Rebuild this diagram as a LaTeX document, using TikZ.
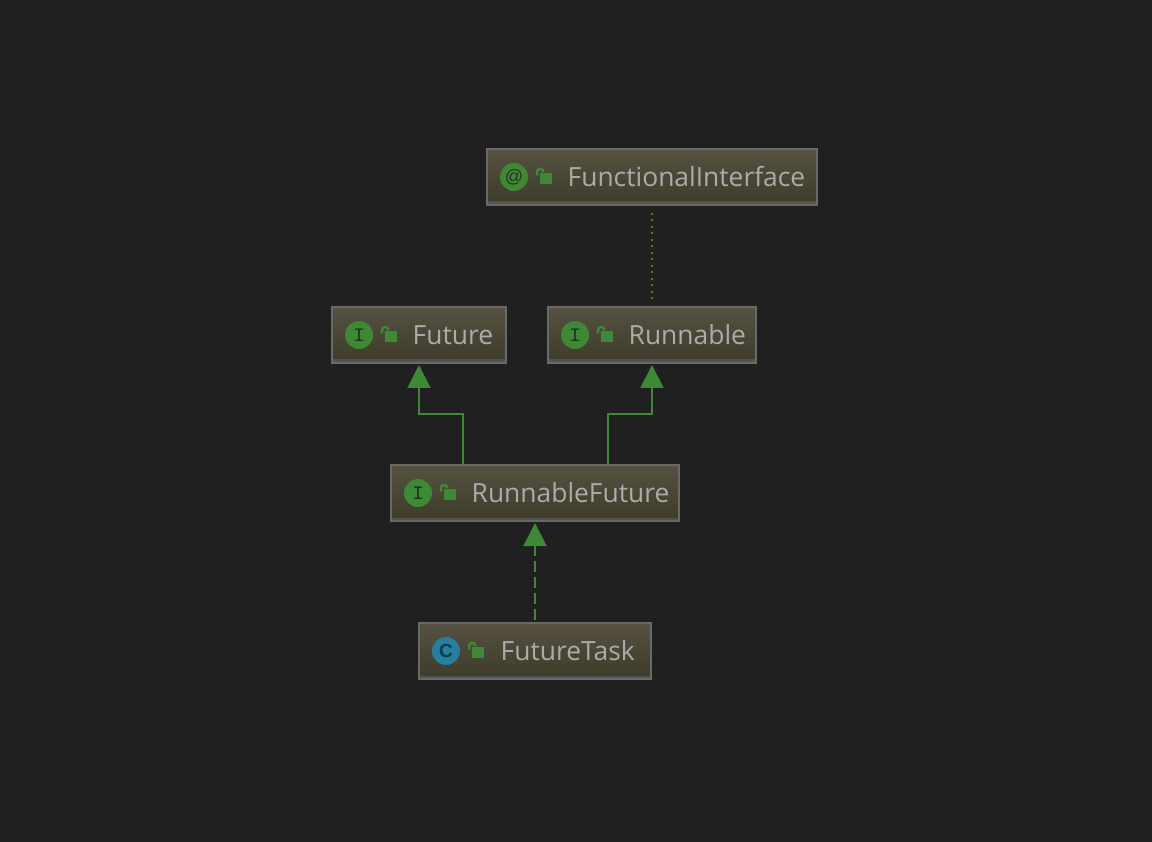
\documentclass[tikz,border=0pt]{standalone}
\usepackage{fontspec}
\setmainfont{Open Sans}
\newfontfamily\iconfont{Liberation Mono}
\newfontfamily\iconsans{Liberation Sans}
\usetikzlibrary{arrows.meta}
\definecolor{bgcol}{HTML}{202020}
\definecolor{boxtop}{HTML}{565140}
\definecolor{boxbot}{HTML}{3E3B2B}
\definecolor{boxband}{HTML}{55544C}
\definecolor{boxline}{HTML}{696969}
\definecolor{labelcol}{HTML}{ABABAB}
\definecolor{greencol}{HTML}{3C8A33}
\definecolor{letterI}{HTML}{20351C}
\definecolor{dotcol}{HTML}{5F7D00}
\definecolor{bluecol}{HTML}{24809E}
\definecolor{letterC}{HTML}{17394A}
\tikzset{
  umlbox/.style={draw=boxline, line width=2pt, top color=boxtop, bottom color=boxbot, minimum height=56pt, inner sep=0pt,
    path picture={\fill[boxband] ([yshift=3.5pt]path picture bounding box.south west) rectangle (path picture bounding box.south east);}},
  umltext/.style={anchor=west, inner sep=0pt, text=labelcol, font=\fontsize{26.4}{26.4}\selectfont},
  iconI/.style={circle, fill=greencol, minimum size=28pt, inner sep=0pt, text=letterI, font=\fontsize{19}{19}\bfseries\iconfont},
  iconC/.style={iconI, fill=bluecol, text=letterC},
  extends/.style={draw=greencol, line width=2pt, -{Triangle[width=23pt,length=23pt,fill=greencol]}, shorten >=1pt},
  annot/.style={draw=dotcol, line width=2pt, dash pattern=on 2pt off 4.5pt},
  lockicon/.pic={
    \fill[greencol] (-6,-5.5) rectangle (6,5.5);
    \draw[greencol, line width=2.4pt] (-9,-3) -- (-9,-6.5) .. controls (-9,-10.5) and (-2.5,-10.5) .. (-2.5,-6.5);
  }
}
\begin{document}
\begin{tikzpicture}[x=1pt, y=-1pt]
\fill[bgcol] (0,0) rectangle (1152,842);
\useasboundingbox (0,0) rectangle (1152,842);
% boxes
\node (funcif) [umlbox, minimum width=330pt] at (652,177) {};
\node (future) [umlbox, minimum width=174pt] at (419,335) {};
\node (runnable) [umlbox, minimum width=208pt] at (652,335) {};
\node (runfuture) [umlbox, minimum width=288pt] at (535,493) {};
\node (futtask) [umlbox, minimum width=232pt] at (535,651) {};
% icons
\node (funcificon) [iconI] at ([xshift=28pt]funcif.west) {\fontsize{18}{18}\mdseries\iconsans @};
\node (futureicon) [iconI, font=\fontsize{19}{19}\iconfont] at ([xshift=28pt]future.west) {I};
\node (runnableicon) [iconI, font=\fontsize{19}{19}\iconfont] at ([xshift=28pt]runnable.west) {I};
\node (runfutureicon) [iconI, font=\fontsize{19}{19}\iconfont] at ([xshift=28pt]runfuture.west) {I};
\node (futtaskicon) [iconC] at ([xshift=28pt]futtask.west) {\fontsize{19}{19}\iconsans C};
\path ([xshift=60pt,yshift=-1.5pt]funcif.west) pic {lockicon};
\path ([xshift=60pt,yshift=-1.5pt]future.west) pic {lockicon};
\path ([xshift=60pt,yshift=-1.5pt]runnable.west) pic {lockicon};
\path ([xshift=60pt,yshift=-1.5pt]runfuture.west) pic {lockicon};
\path ([xshift=60pt,yshift=-1.5pt]futtask.west) pic {lockicon};
% labels
\node (funciflabel) [umltext] at ([xshift=81.5pt]funcif.west) {FunctionalInterface};
\node (futurelabel) [umltext] at ([xshift=81.5pt]future.west) {Future};
\node (runnablelabel) [umltext] at ([xshift=81.5pt]runnable.west) {Runnable};
\node (runfuturelabel) [umltext] at ([xshift=81.5pt]runfuture.west) {RunnableFuture};
\node (futtasklabel) [umltext] at ([xshift=82.5pt]futtask.west) {FutureTask};
% connectors
\draw [annot, shorten <=7pt, shorten >=2pt] (funcif.south) -- (runnable.north);
\draw [extends] ([xshift=-72pt]runfuture.north) -- ++(0,-50) -| (future.south);
\draw [extends] ([xshift=73pt]runfuture.north) -- ++(0,-50) -| (runnable.south);
\draw [extends, dash pattern=on 11pt off 5pt, shorten <=2pt] (futtask.north) -- (runfuture.south);
\end{tikzpicture}
\end{document}
